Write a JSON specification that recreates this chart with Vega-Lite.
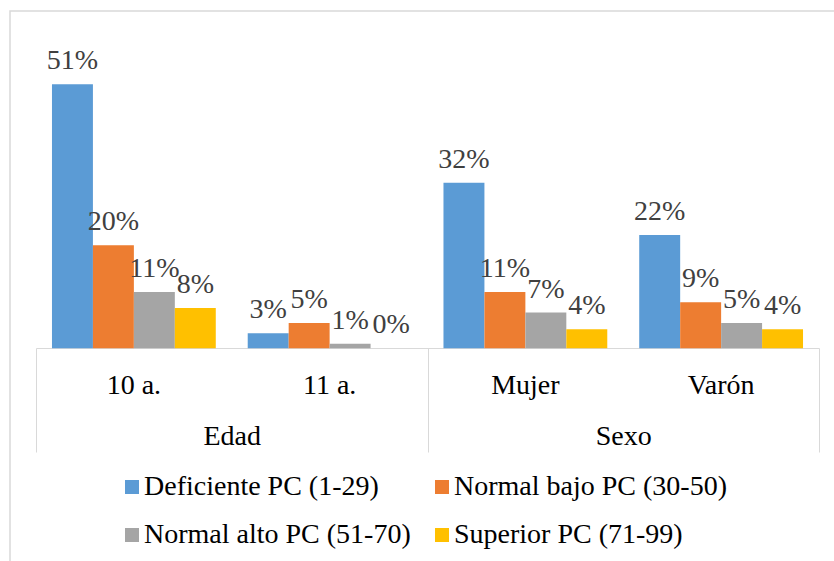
{
  "$schema": "https://vega.github.io/schema/vega-lite/v6.json",
  "autosize": "none",
  "padding": {"left": 10, "top": 11, "right": 0, "bottom": 0},
  "background": "white",
  "width": 830,
  "height": 555,
  "data": {
    "values": [
      {"grupo": "Edad", "categoria": "10 a.", "nivel": "Deficiente PC (1-29)", "valor": 0.51},
      {"grupo": "Edad", "categoria": "10 a.", "nivel": "Normal bajo PC (30-50)", "valor": 0.199},
      {"grupo": "Edad", "categoria": "10 a.", "nivel": "Normal alto PC (51-70)", "valor": 0.109},
      {"grupo": "Edad", "categoria": "10 a.", "nivel": "Superior PC (71-99)", "valor": 0.078},
      {"grupo": "Edad", "categoria": "11 a.", "nivel": "Deficiente PC (1-29)", "valor": 0.029},
      {"grupo": "Edad", "categoria": "11 a.", "nivel": "Normal bajo PC (30-50)", "valor": 0.049},
      {"grupo": "Edad", "categoria": "11 a.", "nivel": "Normal alto PC (51-70)", "valor": 0.009},
      {"grupo": "Edad", "categoria": "11 a.", "nivel": "Superior PC (71-99)", "valor": 0.0},
      {"grupo": "Sexo", "categoria": "Mujer", "nivel": "Deficiente PC (1-29)", "valor": 0.32},
      {"grupo": "Sexo", "categoria": "Mujer", "nivel": "Normal bajo PC (30-50)", "valor": 0.109},
      {"grupo": "Sexo", "categoria": "Mujer", "nivel": "Normal alto PC (51-70)", "valor": 0.069},
      {"grupo": "Sexo", "categoria": "Mujer", "nivel": "Superior PC (71-99)", "valor": 0.037},
      {"grupo": "Sexo", "categoria": "Varón", "nivel": "Deficiente PC (1-29)", "valor": 0.219},
      {"grupo": "Sexo", "categoria": "Varón", "nivel": "Normal bajo PC (30-50)", "valor": 0.089},
      {"grupo": "Sexo", "categoria": "Varón", "nivel": "Normal alto PC (51-70)", "valor": 0.049},
      {"grupo": "Sexo", "categoria": "Varón", "nivel": "Superior PC (71-99)", "valor": 0.037}
    ]
  },
  "layer": [
    {
      "encoding": {
        "x": {
          "field": "categoria",
          "type": "nominal",
          "sort": null,
          "scale": {"range": [26, 809], "paddingInner": 0, "paddingOuter": 0},
          "axis": {
            "orient": "bottom",
            "offset": -218,
            "title": null,
            "labelAngle": 0,
            "labelFont": "Liberation Serif",
            "labelFontSize": 28,
            "labelColor": "#000000",
            "labelBaseline": "middle",
            "labelPadding": 37,
            "ticks": false,
            "domainColor": "#d9d9d9",
            "domainWidth": 1,
            "grid": false
          }
        },
        "xOffset": {
          "field": "nivel",
          "type": "nominal",
          "sort": ["Deficiente PC (1-29)", "Normal bajo PC (30-50)", "Normal alto PC (51-70)", "Superior PC (71-99)"],
          "scale": {"paddingInner": 0, "paddingOuter": 0.39}
        },
        "y": {
          "field": "valor",
          "type": "quantitative",
          "scale": {"domain": [-0.4206, 0.6517], "nice": false, "zero": false},
          "axis": null
        }
      },
      "layer": [
        {
          "mark": {"type": "bar"},
          "encoding": {
            "color": {
              "field": "nivel",
              "type": "nominal",
              "scale": {
                "domain": ["Deficiente PC (1-29)", "Normal bajo PC (30-50)", "Normal alto PC (51-70)", "Superior PC (71-99)"],
                "range": ["#5B9BD5", "#ED7D31", "#A5A5A5", "#FFC000"]
              },
              "legend": {
                "title": null,
                "orient": "none",
                "legendX": 108,
                "legendY": 462,
                "direction": "horizontal",
                "columns": 2,
                "symbolType": "square",
                "symbolSize": 196,
                "symbolStrokeWidth": 0,
                "labelFont": "Liberation Serif",
                "labelFontSize": 28,
                "labelColor": "#000000",
                "labelOffset": -2,
                "labelLimit": 400,
                "rowPadding": 20,
                "columnPadding": 17
              }
            }
          }
        },
        {
          "mark": {"type": "text", "font": "Liberation Serif", "fontSize": 28, "color": "#404040", "baseline": "alphabetic", "dy": -15},
          "encoding": {
            "text": {"field": "valor", "type": "quantitative", "format": ".0%"}
          }
        }
      ]
    },
    {
      "mark": {"type": "text"},
      "encoding": {
        "x": {
          "field": "grupo",
          "type": "nominal",
          "sort": ["Edad", "Sexo"],
          "scale": {"range": [26, 809], "paddingInner": 0, "paddingOuter": 0},
          "axis": {
            "orient": "bottom",
            "offset": -218,
            "title": null,
            "labelAngle": 0,
            "labelFont": "Liberation Serif",
            "labelFontSize": 28,
            "labelColor": "#000000",
            "labelBaseline": "middle",
            "labelPadding": -16,
            "domain": false,
            "tickBand": "extent",
            "tickColor": "#d9d9d9",
            "tickWidth": 1,
            "tickSize": 104,
            "grid": false
          }
        },
        "text": {"value": ""}
      }
    }
  ],
  "resolve": {"scale": {"x": "independent"}, "axis": {"x": "independent"}},
  "config": {
    "view": {"stroke": "#d9d9d9", "strokeWidth": 1.5}
  }
}
